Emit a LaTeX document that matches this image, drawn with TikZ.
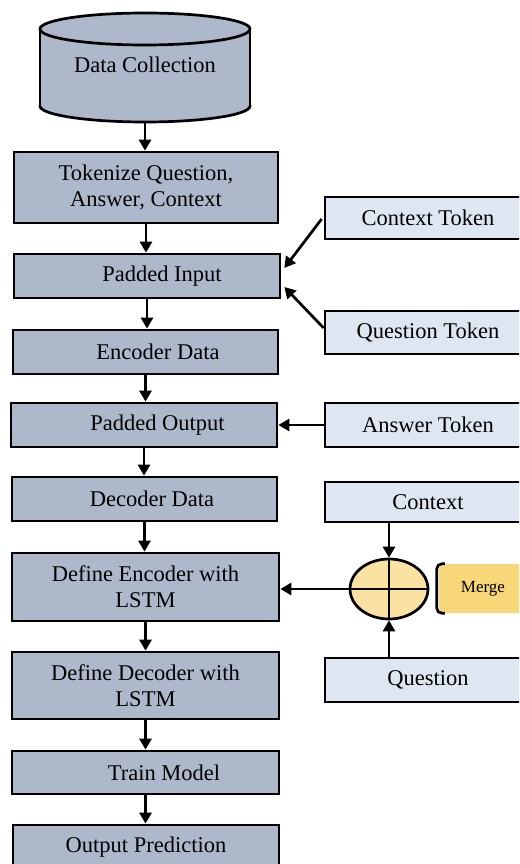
\documentclass[tikz,border=0pt]{standalone}
\usepackage{fontspec}
\setmainfont{Liberation Serif}
\usetikzlibrary{arrows.meta,calc,shapes.geometric}
\definecolor{mainfill}{HTML}{ADB9CA}
\definecolor{sidefill}{HTML}{DEE6F1}
\definecolor{ellfill}{HTML}{FAE3A2}
\definecolor{tagfill}{HTML}{F8D778}
\tikzset{
  mbox/.style={draw=black, line width=2.7pt, fill=mainfill, inner sep=0pt,
    font=\fontsize{22.5}{26}\selectfont, align=center, minimum width=266pt},
  sbox/.style={draw=black, line width=2.7pt, fill=sidefill, inner sep=0pt,
    font=\fontsize{22.5}{26}\selectfont, minimum width=206pt},
  arr/.style={line width=2.7pt, -{Triangle[length=11pt,width=12pt]}},
  plain/.style={line width=2.7pt}
}
\begin{document}
\begin{tikzpicture}[x=1pt,y=-1pt]
\useasboundingbox (0,0) rectangle (519,864);
\clip (0,0) rectangle (519,864);
% cylinder
\filldraw[fill=mainfill, line width=2.7pt] (145,106) ellipse [x radius=105, y radius=16];
\fill[mainfill] (40,29) rectangle (250,106);
\filldraw[fill=mainfill, line width=2.7pt] (145,29) ellipse [x radius=105, y radius=16];
\draw[plain] (40,29) -- (40,106) (250,29) -- (250,106);
\node[font=\fontsize{22.5}{26}\selectfont] (dc) at (145,65) {Data Collection};
\coordinate (dcbot) at (145,122);

% main column
\node[mbox, minimum width=264pt, minimum height=71pt] (tok) at (146,187.5) {Tokenize Question,\\Answer, Context};
\node[mbox, minimum height=44pt] (pin) at (147,276) {\hspace*{30pt}Padded Input};
\node[mbox, minimum width=265pt, minimum height=44pt] (enc) at (145.5,352) {\hspace*{25pt}Encoder Data};
\node[mbox, minimum height=44pt] (pout) at (144,425) {\hspace*{27pt}Padded Output};
\node[mbox, minimum width=265pt, minimum height=44pt] (dec) at (144.5,499) {\hspace*{15pt}Decoder Data};
\node[mbox, minimum width=267pt, minimum height=68pt] (encdef) at (145.5,587) {Define Encoder with\\LSTM};
\node[mbox, minimum width=267pt, minimum height=67pt] (decdef) at (145.5,685.5) {Define Decoder with\\LSTM};
\node[mbox, minimum width=267pt, minimum height=43pt] (train) at (145.5,772.5) {\hspace*{37pt}Train Model};
\node[mbox, minimum height=44pt] (outp) at (146,847) {Output Prediction};

% side boxes
\node[sbox, minimum height=42pt] (ctxtok) at (428,218) {Context Token};
\node[sbox, minimum height=43pt] (qtok) at (428,332.5) {Question Token};
\node[sbox, minimum height=44pt] (atok) at (428,425) {Answer Token};
\node[sbox, minimum height=40pt] (ctx) at (428,502) {Context};
\node[sbox, minimum height=44pt] (q) at (428,680) {Question};

% merge
\node[ellipse, draw=black, line width=2.7pt, fill=ellfill, minimum width=78pt, minimum height=60pt, inner sep=0pt] (ell) at (389,589) {};
\draw[plain] (ell.north) -- (ell.south) (ell.west) -- (ell.east);
\node[fill=tagfill, rounded corners=6pt, minimum width=102pt, minimum height=49pt, inner sep=0pt,
  font=\fontsize{17}{20}\selectfont] (merge) at (490,588.5) {Merge\hspace*{14pt}};
\draw[plain, rounded corners=5pt] ([xshift=6pt]merge.north west) -- ([xshift=-2pt]merge.north west)
  -- ([xshift=-2pt]merge.south west) -- ([xshift=6pt]merge.south west);

% connectors
\draw[arr] (dcbot) -- (dcbot |- tok.north);
\draw[arr] (tok.south) -- (tok.south |- pin.north);
\draw[arr] (pin.south) -- (pin.south |- enc.north);
\draw[arr] (enc.south) -- (enc.south |- pout.north);
\draw[arr] (pout.south) -- (pout.south |- dec.north);
\draw[arr] (dec.south) -- (dec.south |- encdef.north);
\draw[arr] (encdef.south) -- (encdef.south |- decdef.north);
\draw[arr] (decdef.south) -- (decdef.south |- train.north);
\draw[arr] (train.south) -- (train.south |- outp.north);

\draw[arr] ($(ctxtok.west)+(-2,1)$) -- ($(pin.east)+(3,-8)$);
\draw[arr] ($(qtok.west)+(0,-4.5)$) -- ($(pin.east)+(3,11)$);
\draw[arr] (atok.west) -- (atok.west -| pout.east);
\draw[arr] (ell.north |- ctx.south) -- (ell.north);
\draw[arr] (ell.south |- q.north) -- (ell.south);
\draw[arr] (ell.west) -- (ell.west -| encdef.east);
\end{tikzpicture}
\end{document}
